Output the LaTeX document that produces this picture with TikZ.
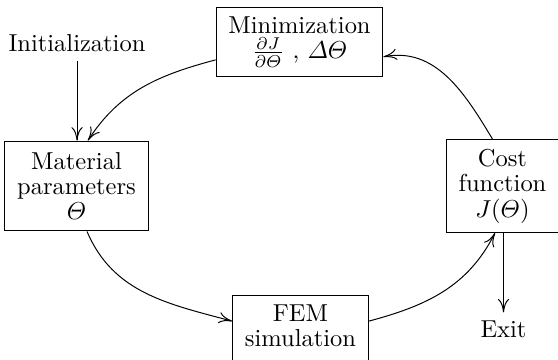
\documentclass[tikz,border=0pt]{standalone}
\usepackage{amsmath}
\usetikzlibrary{arrows.meta}
\begin{document}
\begin{tikzpicture}[
  >={To[length=5.5pt,width=4.6pt]},
  blk/.style={draw, align=center, inner xsep=5pt, inner ysep=3.8pt,
    font=\fontsize{10}{10.4}\selectfont},
  tall/.style={minimum height=36.7pt}
]
\useasboundingbox (0,0) rectangle (8.006,-5.151);

\node[blk] (min) at (4.297,-0.603) {Minimization\\ $\frac{\partial J}{\partial \varTheta}$ , $\varDelta\varTheta$};
\node[blk, tall] (mat) at (1.098,-2.669) {Material\\ parameters\\ $\varTheta$};
\node[blk, tall] (cost) at (7.209,-2.669) {Cost\\ function\\ $J(\varTheta)$};
\node[blk, anchor=north, text depth=4pt] (fem) at (4.311,-4.232) {FEM\\ simulation};

\node (init) at (1.105,-0.624) {Initialization};
\node (exit) at (7.224,-4.727) {Exit};

\draw[->] (init.south) -- (init.south |- mat.north);
\draw[->] (exit.north |- cost.south) -- (exit.north);

% the loop
\draw[->] (min.192) to[out=195,in=57] (mat.76);
\draw[->] (mat.-77) to[out=-67,in=165] (fem.172);
\draw[->] (fem.8) to[out=15,in=243] (cost.-99);
\draw[->] (cost.102) to[out=121,in=11] (min.-10);

\end{tikzpicture}
\end{document}
